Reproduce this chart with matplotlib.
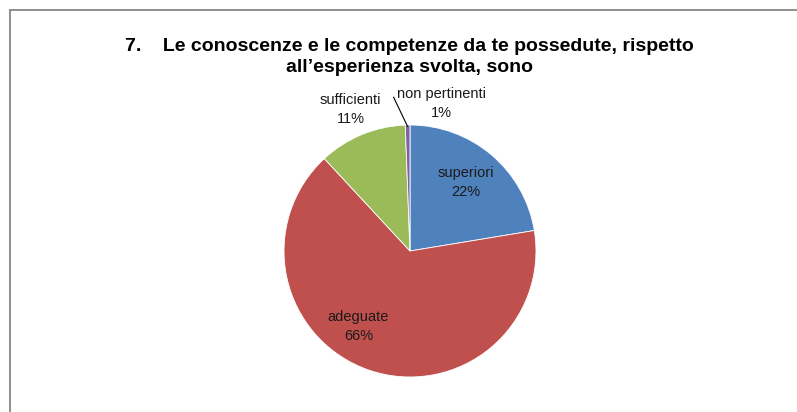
import matplotlib.pyplot as plt
from matplotlib.lines import Line2D

# data (shares)
labels = ["superiori", "adeguate", "sufficienti", "non pertinenti"]
values = [22.4, 65.7, 11.3, 0.6]
pct_text = ["22%", "66%", "11%", "1%"]
colors = ["#4F81BD", "#C0504D", "#9BBB59", "#8064A2"]
title = "7.    Le conoscenze e le competenze da te possedute, rispetto\nall\u2019esperienza svolta, sono"

# label placement in pie radius units (Excel "best fit")
label_pos = [(0.44, 0.54), (-0.41, -0.60), (-0.47, 1.12), (0.25, 1.17)]

plt.rcParams['font.family'] = ['Liberation Sans Narrow', 'Liberation Sans', 'DejaVu Sans']

W, H = 797, 412
fig = plt.figure(figsize=(W / 100, H / 100), dpi=100)

# frame (only top and left edges visible)
fig.add_artist(Line2D([10 / W, 1], [1 - 9.5 / H, 1 - 9.5 / H], color="#878787", lw=1.3))
fig.add_artist(Line2D([10 / W, 10 / W], [0, 1 - 9.5 / H], color="#878787", lw=1.3))

# pie axes: centre (410, 251), radius 126 px
cx, cy, r = 410, 251, 126
ax = fig.add_axes([(cx - r) / W, (H - cy - r) / H, 2 * r / W, 2 * r / H])
ax.pie(values, colors=colors, startangle=90, counterclock=False,
       wedgeprops=dict(linewidth=0.6, edgecolor="white"))
ax.set_xlim(-1, 1)
ax.set_ylim(-1, 1)
ax.set_aspect("equal")
ax.axis("off")

for lab, pct, (x, y) in zip(labels, pct_text, label_pos):
    ax.text(x, y, lab + "\n" + pct, ha="center", va="center", fontsize=10.5,
            linespacing=1.45, color="#1a1a1a", clip_on=False)

# leader line for the tiny slice
ax.plot([-0.13, -0.02], [1.22, 0.99], color="black", lw=0.8, clip_on=False)

fig.text(409 / W, 1 - 57 / H, title, ha="center", va="center", fontsize=14,
         fontweight="bold", linespacing=1.38, color="black")

fig.savefig("out.png", dpi=100)
